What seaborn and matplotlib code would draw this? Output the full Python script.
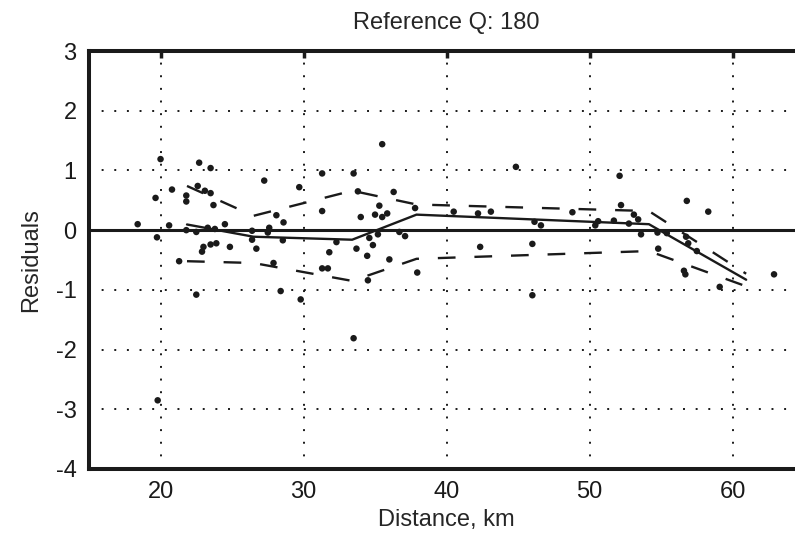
import numpy as np
import pandas as pd
import matplotlib
matplotlib.use("Agg")
import matplotlib.pyplot as plt
import seaborn as sns

# scattered residuals (distance km, residual)
dist = [18.4, 19.65, 19.75, 19.8, 20.0, 20.6, 20.8, 21.3, 21.8, 21.8,
        21.8, 22.5, 22.5, 22.6, 22.7, 22.9, 23.0, 23.1, 23.3, 23.5,
        23.5, 23.5, 23.7, 23.8, 23.9, 24.5, 24.85, 26.4, 26.4, 26.7,
        27.25, 27.5, 27.6, 27.9, 28.1, 28.4, 28.55, 28.6, 29.7, 29.8,
        31.3, 31.3, 31.3, 31.7, 31.8, 32.3, 33.5, 33.5, 33.7, 33.8,
        34.0, 34.45, 34.5, 34.6, 34.85, 35.0, 35.2, 35.3, 35.5, 35.5,
        35.85, 36.0, 36.3, 36.7, 37.1, 37.8, 37.95, 40.5, 42.2, 42.35,
        43.1, 44.85, 46.0, 46.0, 46.15, 46.6, 48.8, 50.4, 50.6, 51.7,
        52.1, 52.2, 52.75, 53.1, 53.4, 53.6, 54.75, 54.8, 55.4, 56.6,
        56.7, 56.75, 56.8, 56.9, 57.5, 58.3, 59.1, 62.9]
resid = [0.10, 0.54, -0.12, -2.85, 1.19, 0.08, 0.68, -0.52, 0.58, 0.48,
         0.00, -0.03, -1.08, 0.74, 1.13, -0.36, -0.28, 0.66, 0.04, 1.04,
         0.62, -0.24, 0.42, 0.02, -0.22, 0.10, -0.28, -0.01, -0.16, -0.31,
         0.83, -0.04, 0.04, -0.55, 0.25, -1.02, -0.17, 0.13, 0.72, -1.16,
         0.95, 0.32, -0.64, -0.64, -0.37, -0.20, 0.95, -1.81, -0.31, 0.65,
         0.22, -0.43, -0.84, -0.13, -0.25, 0.26, -0.07, 0.41, 0.22, 1.44,
         0.28, -0.49, 0.64, -0.03, -0.10, 0.37, -0.71, 0.31, 0.28, -0.28,
         0.31, 1.06, -0.23, -1.09, 0.14, 0.08, 0.30, 0.08, 0.15, 0.16,
         0.91, 0.42, 0.11, 0.26, 0.18, -0.07, -0.04, -0.31, -0.05, -0.68,
         -0.74, -0.11, 0.49, -0.22, -0.35, 0.31, -0.95, -0.74]

# binned mean and spread
bin_x = [21.85, 26.5, 33.4, 37.9, 54.15, 60.95]
mean_y = [0.095, -0.11, -0.16, 0.26, 0.10, -0.83]
upper_y = [0.74, 0.24, 0.66, 0.43, 0.32, -0.73]
lower_y = [-0.52, -0.55, -0.85, -0.48, -0.35, -0.94]

x_ticks = [20, 30, 40, 50, 60]
y_ticks = [-4, -3, -2, -1, 0, 1, 2, 3]

sns.set_theme(style="white")
plt.rcParams["font.family"] = ["Liberation Sans", "DejaVu Sans"]
plt.rcParams["font.size"] = 17
plt.rcParams["axes.unicode_minus"] = False

pts = pd.DataFrame({"dist": dist, "resid": resid})
bins = pd.DataFrame({"x": bin_x, "mean": mean_y, "up": upper_y, "lo": lower_y})

fig = plt.figure(figsize=(7.95, 5.4), dpi=100)
ax = fig.add_axes([0.112, 0.1315, 0.8994, 0.774])

ax.axhline(0, color="k", lw=2.2, zorder=1)
sns.scatterplot(data=pts, x="dist", y="resid", ax=ax, color="k", s=22,
                edgecolor="none", zorder=3)
sns.lineplot(data=bins, x="x", y="mean", ax=ax, color="k", lw=1.7,
             estimator=None, sort=False, zorder=2)
dash = (0, (7.5, 8))
sns.lineplot(data=bins, x="x", y="up", ax=ax, color="k", lw=1.7,
             linestyle=dash, estimator=None, sort=False, zorder=2)
sns.lineplot(data=bins, x="x", y="lo", ax=ax, color="k", lw=1.7,
             linestyle=dash, estimator=None, sort=False, zorder=2)

ax.set_xlim(15, 65)
ax.set_ylim(-4, 3)
ax.set_xticks(x_ticks)
ax.set_yticks(y_ticks)
ax.grid(True, color="k", linestyle=(0, (1, 5.5)), linewidth=1.4)
ax.tick_params(direction="in", top=True, right=False, length=5, width=2.5,
               labelsize=17, pad=9, colors="k")
for sp in ax.spines.values():
    sp.set_linewidth(2.9)
    sp.set_color("k")
ax.spines["right"].set_visible(False)

ax.set_title("Reference Q: 180", fontsize=17, pad=16)
ax.set_xlabel("Distance, km", fontsize=17, labelpad=4)
ax.set_ylabel("Residuals", fontsize=17, labelpad=10)

fig.savefig("out.png", dpi=100)
